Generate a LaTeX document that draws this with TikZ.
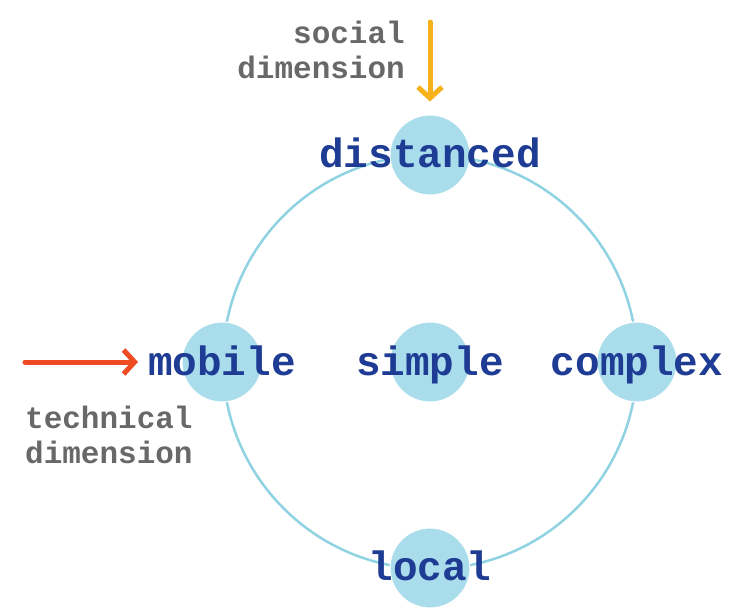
\documentclass[tikz,border=0pt]{standalone}
\usepackage{fontspec}
\setmonofont{Liberation Mono}
\usetikzlibrary{arrows.meta}

\definecolor{ringblue}{HTML}{8FD3E3}
\definecolor{dotblue}{HTML}{AADDEC}
\definecolor{wordblue}{HTML}{1E3C94}
\definecolor{dimgrey}{HTML}{686868}
\definecolor{socialorange}{HTML}{F7B11B}
\definecolor{techred}{HTML}{EE4B22}

\tikzset{
    dot/.style={circle, fill=dotblue, draw=white, line width=1pt, minimum size=80pt, inner sep=0pt},
    word/.style={font=\ttfamily\bfseries\fontsize{41}{41}\selectfont, text=wordblue, inner sep=0pt, anchor=base},
    dimlabel/.style={font=\ttfamily\bfseries\fontsize{31}{35}\selectfont, text=dimgrey, inner sep=0pt},
    dimarrow/.style={line width=5pt, line cap=round, -{Straight Barb[length=11pt, width=24pt]}},
}

\begin{document}
\begin{tikzpicture}[x=1pt, y=-1pt]
    \useasboundingbox (0,0) rectangle (734,613);

    \draw[ringblue, line width=2.5pt] (430,362) circle (207);

    \node[dot] (cdistanced) at (430,155) {};
    \node[dot] (cmobile) at (222,362) {};
    \node[dot] (csimple) at (430,362) {};
    \node[dot] (ccomplex) at (637,362) {};
    \node[dot] (clocal) at (430,568) {};

    \node[word] (distanced) at (430,167) {distanced};
    \node[word] (mobile) at (222,375) {mobile};
    \node[word] (simple) at (430,375) {simple};
    \node[word] (complex) at (637,375) {complex};
    \node[word] (local) at (430,580) {local};

    \node[dimlabel, align=right, anchor=east] (social) at (405,50) {social\\dimension};
    \node[dimlabel, align=left, anchor=west] (technical) at (25,435) {technical\\dimension};

    \coordinate (socialtail) at (430,22);
    \coordinate (techtail) at (25,362);
    \draw[socialorange, dimarrow, shorten >=13pt] (socialtail) -- (cdistanced.north);
    \draw[techred, dimarrow, shorten >=10pt] (techtail) -- (cmobile.west -| mobile.west);

\end{tikzpicture}
\end{document}
